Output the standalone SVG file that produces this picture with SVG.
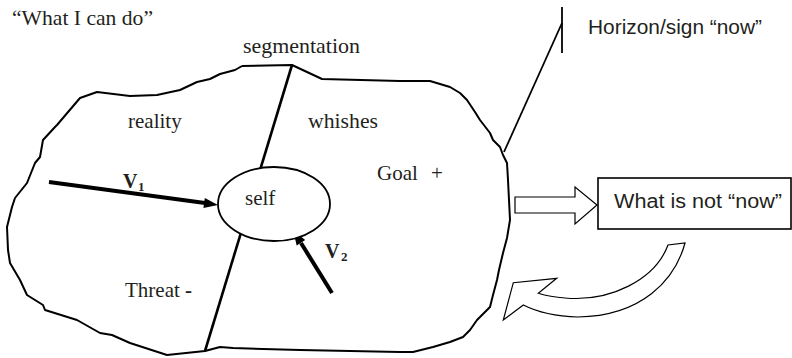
<svg xmlns="http://www.w3.org/2000/svg" width="792" height="358" viewBox="0 0 792 358">
<style>
.serif{font-family:"Liberation Serif","Times New Roman",serif;font-size:21px;fill:#231f20}
.sans{font-family:"Liberation Sans",Arial,sans-serif;font-size:20px;fill:#231f20}
.vb{font-family:"Liberation Serif","Times New Roman",serif;font-weight:bold;fill:#231f20}
.outline{fill:none;stroke:#000;stroke-width:2;stroke-linejoin:round}
.thin{fill:#fff;stroke:#000;stroke-width:1.2;stroke-linejoin:miter}
</style>
<rect width="792" height="358" fill="#fff"/>
<text class="serif" x="12" y="25" textLength="141" lengthAdjust="spacingAndGlyphs">“What I can do”</text>
<g id="region">
<polyline class="outline" points="242,66 292,65 322,79 400,81 430,81 440,84 450,87 460,93 467,100 475,112 480,120 490,133 493,140 500,147 503,155 507,163 508,180 509,200 510,220 507,238 503,253 499,270 497,280 493,295 490,307 484,313 477,320 470,330 463,337 450,342 433,347 413,352 400,352 300,350 233,348 220,347 205,351 167,355 130,343 112,335 100,333 77,320 45,310 43,305 27,295 20,280 10,263 8,250 7,227 12,207 15,198 27,183 35,163 40,157 43,140 55,127 57,125 80,98 97,92 130,96 157,95 180,90 197,82 210,79 220,74 235,70 242,66"/>
<text class="serif" x="243" y="53" textLength="117" lengthAdjust="spacingAndGlyphs">segmentation</text>
<text class="serif" x="128" y="128">reality</text>
<text class="serif" x="308" y="128" textLength="70" lengthAdjust="spacingAndGlyphs">whishes</text>
<text class="serif" x="377" y="180">Goal</text>
<text class="serif" x="431" y="180">+</text>
<text class="serif" x="125" y="297">Threat <tspan font-weight="bold">-</tspan></text>
</g>
<g id="connectors">
<line x1="292" y1="65" x2="205" y2="351" stroke="#000" stroke-width="2.6"/>
<line x1="504" y1="152" x2="562" y2="23" stroke="#000" stroke-width="1.8"/>
<line x1="562" y1="7" x2="562" y2="53" stroke="#000" stroke-width="1.8"/>
<g id="v1">
<line x1="49" y1="182" x2="205" y2="203" stroke="#000" stroke-width="4"/>
<polygon points="218,205 204.8,198.1 203.4,208" fill="#000"/>
<text class="vb" x="123" y="188" font-size="20">V</text>
<text class="vb" x="138" y="191" font-size="13">1</text>
</g>
<g id="v2">
<line x1="332" y1="293" x2="301" y2="243" stroke="#000" stroke-width="4"/>
<polygon points="293,230 305.2,240.1 296.7,245.4" fill="#000"/>
<text class="vb" x="325" y="258" font-size="20">V</text>
<text class="vb" x="341" y="261" font-size="13">2</text>
</g>
<polygon class="thin" points="515,197 575,197 575,187 597,205 575,224 575,213 515,213"/>
<path class="thin" d="M668,245 C655,280 610,302 565,298 Q550,297 538.3,293.3 L556.7,278.3 L513.3,282.7 L503.3,320 L523.3,305 Q545,316 578,317 C642,316 675,280 685,243 Z"/>
</g>
<g id="self">
<ellipse cx="274" cy="204" rx="56" ry="37" fill="#fff" stroke="#000" stroke-width="1.8"/>
<text class="serif" x="245" y="205">self</text>
</g>
<g id="horizon">
<text class="sans" x="588" y="34" textLength="174" lengthAdjust="spacingAndGlyphs">Horizon/sign “now”</text>
</g>
<g id="not-now">
<rect x="598" y="178" width="193" height="51" fill="#fff" stroke="#000" stroke-width="1.6"/>
<text class="sans" x="614" y="208" textLength="168" lengthAdjust="spacingAndGlyphs">What is not “now”</text>
</g>
</svg>
